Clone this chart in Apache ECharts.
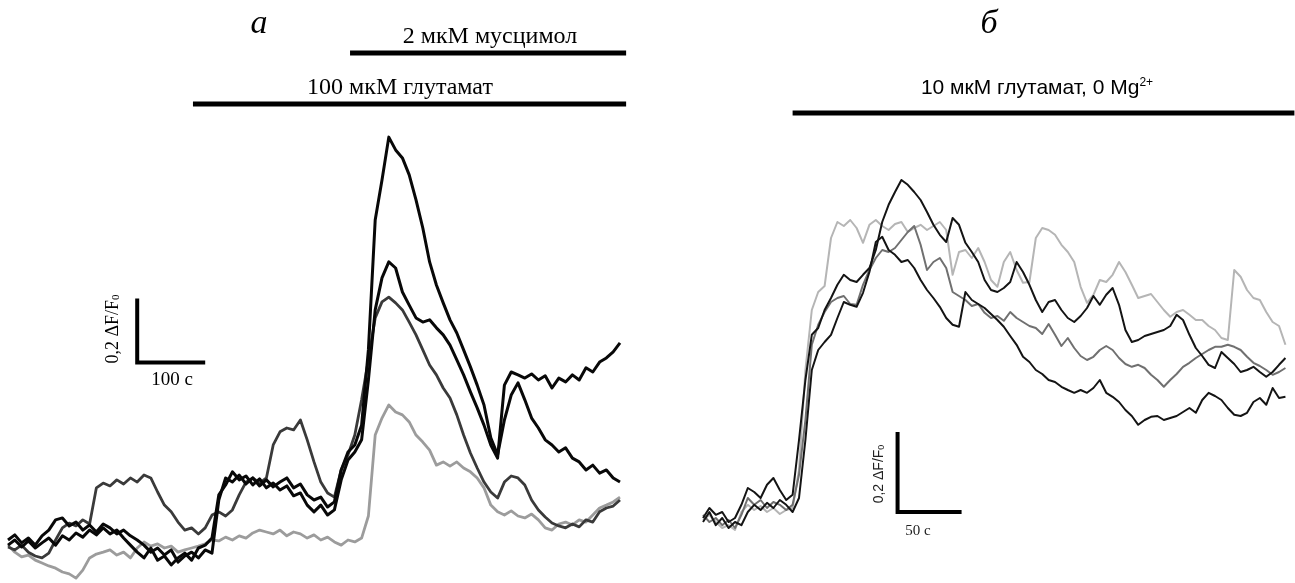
<!DOCTYPE html>
<html lang="ru">
<head>
    <meta charset="UTF-8">
    <title>Кальциевые ответы нейронов</title>
    <script src="https://cdn.jsdelivr.net/npm/echarts@6/dist/echarts.min.js"></script>
    <style>
        html, body {margin: 0; padding: 0; background: #fff;}
        #main {width: 1295px; height: 583px;}
    </style>
</head>
<body>
<div id="main"></div>
<script>
    // панель а: время, с
    var timeA = [0,10,20,30,40,50,60,70,80,90,100,110,120,130,140,150,160,170,180,190,200,210,220,230,240,250,260,270,280,290,300,
        310,320,330,340,350,360,370,380,390,400,410,420,430,440,450,460,470,480,490,500,510,520,530,540,550,560,570,580,590,600,
        610,620,630,640,650,660,670,680,690,700,710,720,730,740,750,760,770,780,790,800,810,820,830,840,850,860,870,880,890,900];
    // ΔF/F0, четыре клетки
    var aBlack1 = [0.025,0.041,0.016,0.031,0.009,0.038,0.056,0.088,0.094,0.069,0.081,0.056,0.072,0.05,0.075,0.063,0.044,0.056,0.038,0.025,0.009,-0.013,0,-0.022,-0.006,-0.044,-0.025,-0.013,-0.031,-0.006,-0.016,
        0.15,0.219,0.206,0.228,0.2,0.219,0.194,0.213,0.191,0.206,0.219,0.188,0.2,0.166,0.15,0.159,0.128,0.144,
        0.244,0.3,0.322,0.384,0.619,1.025,1.15,1.284,1.244,1.219,1.166,1.088,1.0,0.894,0.822,0.766,0.713,0.672,0.619,0.566,0.509,0.447,0.344,0.291,
        0.4,0.478,0.516,0.463,0.406,0.375,0.338,0.322,0.3,0.313,0.281,0.269,0.244,0.259,0.234,0.244,0.219,0.206];
    var aBlack2 = [0.009,0.025,0.003,0.022,0,0.016,0.031,0.009,0.038,0.025,0.047,0.034,0.056,0.041,0.063,0.044,0.056,0.031,0.009,-0.013,-0.031,0,-0.038,-0.025,-0.053,-0.031,-0.016,-0.038,0,0.009,0.031,
        0.166,0.197,0.238,0.213,0.225,0.197,0.216,0.188,0.203,0.181,0.194,0.163,0.172,0.134,0.113,0.134,0.103,0.119,
        0.213,0.275,0.3,0.338,0.525,0.744,0.844,0.894,0.875,0.8,0.759,0.719,0.706,0.713,0.688,0.666,0.634,0.588,0.541,0.488,0.438,0.384,0.322,0.281,
        0.509,0.55,0.541,0.531,0.544,0.525,0.538,0.5,0.531,0.519,0.541,0.525,0.563,0.55,0.581,0.594,0.613,0.641];
    var aDark = [0.003,-0.006,0.009,-0.013,-0.025,-0.031,-0.016,0.025,0.063,0.078,0.069,0.088,0.075,0.188,0.203,0.194,0.213,0.2,0.219,0.206,0.228,0.219,0.175,0.134,0.113,0.081,0.056,0.063,0.044,0.063,0.103,
        0.113,0.1,0.119,0.166,0.206,0.219,0.203,0.219,0.322,0.363,0.375,0.369,0.4,0.338,0.269,0.206,0.172,0.159,
        0.244,0.291,0.353,0.463,0.588,0.719,0.769,0.784,0.766,0.744,0.706,0.666,0.619,0.572,0.541,0.5,0.469,0.416,0.353,0.297,0.25,0.206,0.175,0.156,
        0.206,0.225,0.219,0.197,0.15,0.119,0.097,0.078,0.069,0.063,0.075,0.066,0.088,0.081,0.113,0.125,0.131,0.15];
    var aLight = [0.009,-0.013,-0.028,-0.022,-0.038,-0.047,-0.056,-0.063,-0.075,-0.081,-0.094,-0.069,-0.031,-0.019,-0.013,-0.006,-0.022,-0.013,-0.031,0,0.019,0.006,0.013,0,0.006,-0.013,-0.006,0,0.006,0.013,0.025,
        0.022,0.034,0.025,0.038,0.031,0.047,0.056,0.05,0.044,0.056,0.038,0.05,0.044,0.031,0.041,0.025,0.034,0.019,
        0.009,0.025,0.019,0.031,0.1,0.353,0.406,0.447,0.425,0.416,0.394,0.353,0.331,0.306,0.259,0.269,0.256,0.269,0.25,0.238,0.219,0.188,0.134,0.113,
        0.103,0.116,0.1,0.094,0.106,0.088,0.063,0.056,0.075,0.081,0.072,0.088,0.081,0.103,0.125,0.134,0.144,0.159];

    // панель б: время, с
    var timeB = [0,5,10,15,20,25,30,35,40,45,50,55,60,65,70,75,80,85,90,95,100,105,110,115,120,125,130,135,140,145,150,
        155,160,165,170,175,180,185,190,195,200,205,210,215,220,225,230,235,240,245,250,255,260,265,270,275,280,285,290,295,300,
        305,310,315,320,325,330,335,340,345,350,355,360,365,370,375,380,385,390,395,400,405,410,415,420,425,430,435,440,445,450,455];
    var bLight = [0,0.013,-0.005,-0.02,-0.013,-0.025,0.02,0.038,0.025,0.035,0.02,0.03,0.015,0.025,0.03,
        0.125,0.375,0.525,0.57,0.585,0.705,0.745,0.735,0.75,0.73,0.693,0.738,0.75,0.735,0.725,0.74,0.745,0.72,0.73,0.738,0.725,0.735,0.745,0.725,
        0.613,0.67,0.675,0.655,0.68,0.645,0.6,0.583,0.645,0.67,0.625,0.593,0.595,0.705,0.73,0.725,0.713,0.688,0.67,0.645,
        0.583,0.543,0.563,0.6,0.595,0.613,0.645,0.62,0.588,0.555,0.56,0.565,0.545,0.525,0.508,0.52,0.525,0.513,0.5,0.5,0.485,0.475,0.455,0.45,0.625,0.608,0.575,0.555,0.55,0.52,0.495,0.485,0.438];
    var bMid = [0.013,-0.005,0.005,-0.013,0,-0.02,0.013,0.055,0.038,0.05,0.03,0.045,0.038,0.025,0.038,
        0.113,0.25,0.438,0.488,0.52,0.545,0.555,0.56,0.54,0.538,0.588,0.625,0.655,0.675,0.67,0.68,0.7,0.72,0.735,0.688,0.625,0.645,0.655,0.63,
        0.57,0.56,0.55,0.535,0.54,0.518,0.505,0.51,0.498,0.52,0.505,0.495,0.485,0.48,0.465,0.49,0.463,0.435,0.455,0.43,
        0.41,0.4,0.408,0.425,0.435,0.425,0.405,0.39,0.383,0.388,0.38,0.363,0.35,0.333,0.35,0.365,0.383,0.393,0.405,0.415,0.425,0.433,0.433,0.438,0.433,0.425,0.408,0.393,0.385,0.375,0.363,0.37,0.38];
    var bBlack1 = [0.005,0.03,0.013,0.02,-0.005,0.005,0.038,0.08,0.07,0.055,0.088,0.105,0.075,0.05,0.063,
        0.2,0.35,0.463,0.48,0.525,0.555,0.588,0.613,0.6,0.595,0.613,0.63,0.675,0.745,0.788,0.82,0.85,0.838,0.82,0.8,0.77,0.738,0.713,0.695,
        0.755,0.738,0.693,0.67,0.645,0.6,0.575,0.57,0.58,0.595,0.645,0.62,0.588,0.55,0.52,0.545,0.55,0.525,0.505,0.495,
        0.51,0.53,0.56,0.538,0.563,0.58,0.538,0.475,0.445,0.45,0.46,0.465,0.47,0.475,0.485,0.513,0.5,0.463,0.43,0.41,0.388,0.38,0.42,0.405,0.39,0.37,0.375,0.383,0.37,0.358,0.37,0.388,0.405];
    var bBlack2 = [-0.005,0.02,-0.013,0.005,-0.02,-0.005,-0.013,0.02,0.038,0.025,0.043,0.03,0.05,0.038,0.02,
        0.055,0.2,0.375,0.425,0.445,0.463,0.505,0.545,0.538,0.533,0.568,0.62,0.695,0.708,0.675,0.663,0.645,0.65,0.63,0.6,0.575,0.555,0.533,0.505,
        0.488,0.483,0.57,0.55,0.54,0.53,0.515,0.5,0.483,0.46,0.438,0.408,0.395,0.375,0.365,0.35,0.345,0.333,0.325,0.318,
        0.325,0.318,0.33,0.35,0.318,0.308,0.295,0.275,0.26,0.238,0.25,0.258,0.26,0.25,0.255,0.26,0.27,0.28,0.268,0.3,0.318,0.31,0.3,0.28,0.263,0.26,0.268,0.295,0.305,0.288,0.33,0.305,0.308];

    // аппликации веществ, с
    var musc = [503, 909];
    var glutA = [272, 909];
    var glutB = [70, 462];

    var serif = '"Liberation Serif", "DejaVu Serif", serif';
    var sans = '"Liberation Sans", "DejaVu Sans", sans-serif';

    function pairs(t, v) {
        return v.map(function (y, i) { return [t[i], y]; });
    }
    function trace(g, t, v, color, w) {
        return {
            type: 'line', xAxisIndex: g, yAxisIndex: g, data: pairs(t, v),
            showSymbol: false, symbol: 'none', clip: false, silent: true,
            lineStyle: {color: color, width: w, join: 'round'}
        };
    }
    function bar(g, pts, w) {
        return {
            type: 'line', xAxisIndex: g, yAxisIndex: g, data: pts,
            showSymbol: false, symbol: 'none', clip: false, silent: true,
            lineStyle: {color: '#000', width: w, join: 'miter', cap: 'butt'}
        };
    }

    var myChart = echarts.init(document.getElementById('main'));
    option = {
        animation: false,
        backgroundColor: '#fff',
        grid: [
            {left: 8, top: 20, width: 618.8, height: 560},
            {left: 703, top: 20, width: 591.4, height: 560}
        ],
        xAxis: [
            {type: 'value', gridIndex: 0, min: 0, max: 910, show: false},
            {type: 'value', gridIndex: 1, min: 0, max: 462, show: false}
        ],
        yAxis: [
            {type: 'value', gridIndex: 0, min: -0.1, max: 1.65, show: false},
            {type: 'value', gridIndex: 1, min: -0.15, max: 1.25, show: false}
        ],
        series: [
            trace(0, timeA, aLight, '#9c9c9c', 2.8),
            trace(0, timeA, aDark, '#3a3a3a', 2.8),
            trace(0, timeA, aBlack2, '#080808', 3),
            trace(0, timeA, aBlack1, '#080808', 3),
            trace(1, timeB, bLight, '#b5b5b5', 2),
            trace(1, timeB, bMid, '#707070', 2),
            trace(1, timeB, bBlack2, '#141414', 2),
            trace(1, timeB, bBlack1, '#141414', 2),
            // полосы аппликации
            bar(0, [[musc[0], 1.547], [musc[1], 1.547]], 5),
            bar(0, [[glutA[0], 1.3875], [glutA[1], 1.3875]], 5),
            bar(1, [[glutB[0], 1.0175], [glutB[1], 1.0175]], 5),
            // масштабные отрезки: 0,2 ΔF/F0 и 100 с / 50 с
            bar(0, [[190, 0.78], [190, 0.58], [290, 0.58]], 4),
            bar(1, [[152, 0.22], [152, 0.02], [202, 0.02]], 4)
        ],
        graphic: [
            {type: 'text', x: 259, y: 24, style: {text: 'а', fontSize: 34, fontStyle: 'italic', fontFamily: serif, fill: '#000', align: 'center', verticalAlign: 'middle'}},
            {type: 'text', x: 989, y: 24, style: {text: 'б', fontSize: 34, fontStyle: 'italic', fontFamily: serif, fill: '#000', align: 'center', verticalAlign: 'middle'}},
            {type: 'text', x: 490, y: 37, style: {text: '2 мкМ мусцимол', fontSize: 24, fontFamily: serif, fill: '#000', align: 'center', verticalAlign: 'middle'}},
            {type: 'text', x: 400, y: 88, style: {text: '100 мкМ глутамат', fontSize: 24, fontFamily: serif, fill: '#000', align: 'center', verticalAlign: 'middle'}},
            {type: 'text', x: 1037, y: 88, style: {
                text: '10 мкМ глутамат, 0 Mg{sup|2+}', fontSize: 21, fontFamily: sans, fill: '#000', align: 'center', verticalAlign: 'middle',
                rich: {sup: {fontSize: 12, fontFamily: sans, verticalAlign: 'top', padding: [0, 0, 10, 0]}}
            }},
            {type: 'text', x: 113, y: 329, rotation: Math.PI / 2, style: {
                text: '0,2 ΔF/F{sub|0}', fontSize: 18, fontFamily: serif, fill: '#000', align: 'center', verticalAlign: 'middle',
                rich: {sub: {fontSize: 11, fontFamily: serif, verticalAlign: 'bottom'}}
            }},
            {type: 'text', x: 172, y: 380, style: {text: '100 с', fontSize: 19, fontFamily: serif, fill: '#000', align: 'center', verticalAlign: 'middle'}},
            {type: 'text', x: 879, y: 474, rotation: Math.PI / 2, style: {
                text: '0,2 ΔF/F{sub|0}', fontSize: 14, fontFamily: sans, fill: '#222', align: 'center', verticalAlign: 'middle',
                rich: {sub: {fontSize: 9, fontFamily: sans, verticalAlign: 'bottom'}}
            }},
            {type: 'text', x: 918, y: 531, style: {text: '50 с', fontSize: 15, fontFamily: serif, fill: '#222', align: 'center', verticalAlign: 'middle'}}
        ]
    };
    myChart.setOption(option);
</script>
</body>
</html>
